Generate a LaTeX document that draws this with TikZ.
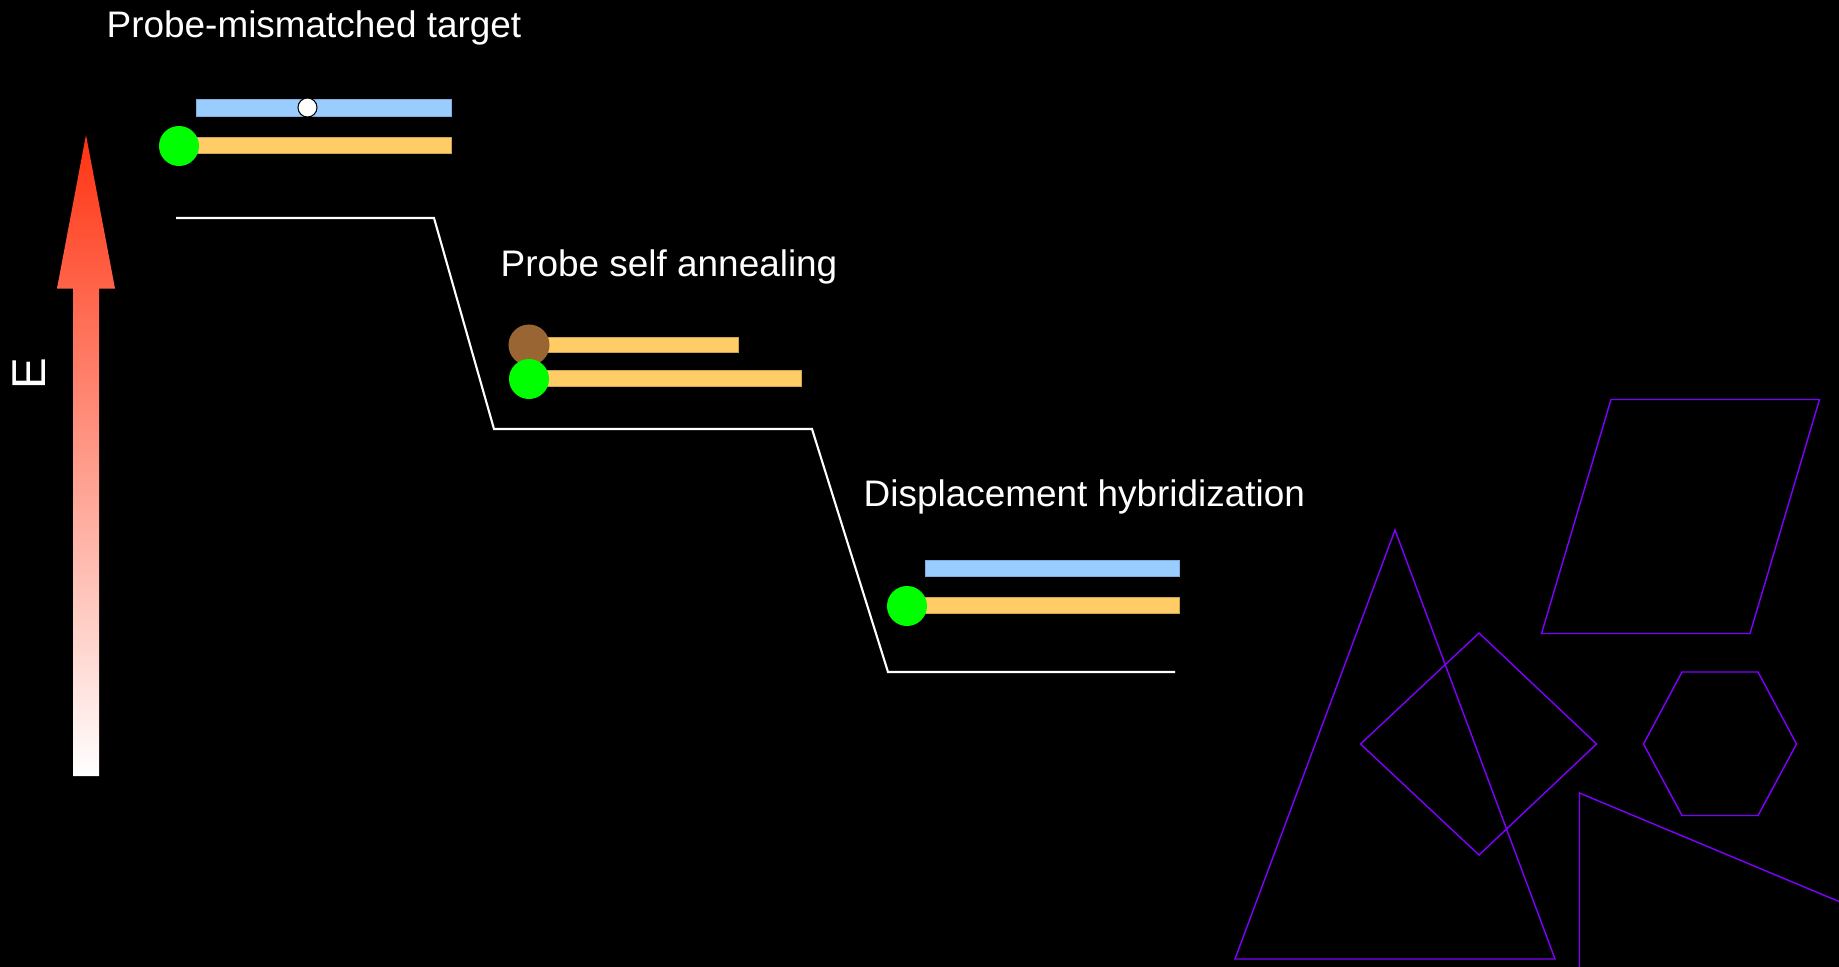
\documentclass[tikz,border=0pt]{standalone}
\usepackage{fontspec}
\setmainfont{Liberation Sans}
\usepackage{tikz}
\usetikzlibrary{calc}

\definecolor{strandblue}{RGB}{153,204,255}
\definecolor{strandorange}{RGB}{255,204,102}
\definecolor{dyegreen}{RGB}{0,255,0}
\definecolor{quenchbrown}{RGB}{153,102,51}
\definecolor{shapeviolet}{RGB}{128,0,255}
\definecolor{arrowred}{RGB}{255,51,17}

\tikzset{
	leveltext/.style = {anchor = base west, inner sep = 0pt, text = white, font = \fontsize{10.5}{12.6}\selectfont},
	bluestrand/.style = {fill = strandblue, draw = strandblue!85!black, line width = 0.2pt},
	orangestrand/.style = {fill = strandorange, draw = strandorange!80!black, line width = 0.2pt},
	shapeline/.style = {draw = shapeviolet, line width = 0.4pt, line join = miter}
}

\begin{document}
\begin{tikzpicture}[x = 0.01cm, y = -0.01cm]
	\useasboundingbox (0,0) rectangle (1839,966);
	\fill [black] (-20,-20) rectangle (1859,986);
	\clip (0,0) rectangle (1839,966);

	\shade [top color = arrowred, bottom color = white] (73,776) -- (73,288.5) -- (57,288.5) -- (86,135) -- (115,288.5) -- (99,288.5) -- (99,776) -- cycle;
	\node [text = white, rotate = 90, inner sep = 0pt, font = \fontsize{13.5}{16}\selectfont] (energy) at (29,374) {E};

	\node [leveltext] (mismatch) at (106,37) {Probe-mismatched target};
	\node [leveltext] (selfanneal) at (500,276) {Probe self annealing};
	\node [leveltext] (displace) at (863,506) {Displacement hybridization};

	\draw [white, line width = 0.6pt] (176,218) -- (434,218) -- (494,429) -- (812,429) -- (888,672) -- (1175,672);

	\draw [bluestrand] (196,99.5) rectangle (451,116);
	\draw [orangestrand] (179,137) rectangle (451,153);

	\draw [orangestrand] (529,337) rectangle (738,352);
	\fill [quenchbrown] (529,345) circle [radius = 0.205cm];
	\draw [orangestrand] (529,370.5) rectangle (801,386);

	\draw [bluestrand] (925,560) rectangle (1179,576);
	\draw [orangestrand] (907,597) rectangle (1179,613);

	\foreach \x/\y in {179/146, 529/379, 907/606}
	{
		\fill [dyegreen] (\x,\y) circle [radius = 0.2cm];
	}

	\filldraw [fill = white, draw = black, line width = 0.3pt] (307.5,107.5) circle [radius = 0.095cm];

	\begin{scope}[shapeline]
		\draw (1395,530) -- (1555,959) -- (1235,959) -- cycle;
		\draw (1479,633) -- (1596.5,744) -- (1479,855) -- (1360.5,744) -- cycle;
		\draw (1611,399.5) -- (1819.5,399.5) -- (1750,633.5) -- (1541.5,633.5) -- cycle;
		\draw (1682,672) -- (1758,672) -- (1796.5,744) -- (1758,815.5) -- (1682,815.5) -- (1643.5,744) -- cycle;
		\draw (1579.5,793) -- (2100,1010.6) -- (1579.5,1010.6) -- cycle;
	\end{scope}
\end{tikzpicture}
\end{document}
